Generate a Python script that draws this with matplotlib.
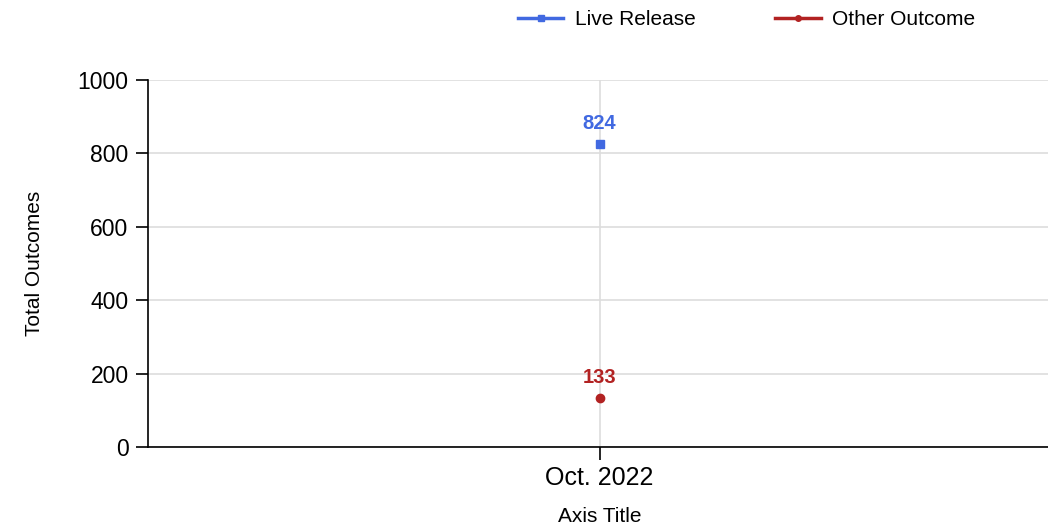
import matplotlib

matplotlib.use("Agg")
import matplotlib.pyplot as plt
from matplotlib.lines import Line2D

plt.rcParams["font.family"] = ["Liberation Sans", "DejaVu Sans"]

categories = ["Oct. 2022"]
live_release = [824]
other_outcome = [133]
series_names = ["Live Release", "Other Outcome"]
colors = ["#4169E1", "#B22222"]
yticks = [0, 200, 400, 600, 800, 1000]

fig = plt.figure(figsize=(10.48, 5.29), dpi=100, facecolor="white")
ax = fig.add_axes([0.1412, 0.155, 0.862, 0.694])

x = list(range(len(categories)))
ax.plot(x, live_release, marker="s", markersize=6, color=colors[0], linewidth=2, zorder=3)
ax.plot(x, other_outcome, marker="o", markersize=6, color=colors[1], linewidth=2, zorder=3)

for series, color in [(live_release, colors[0]), (other_outcome, colors[1])]:
    for xi, v in zip(x, series):
        ax.annotate(str(v), (xi, v), xytext=(0, 8), textcoords="offset points",
                    ha="center", va="bottom", color=color, fontsize=14.5, fontweight="bold")

ax.set_xlim(-0.5, 0.5)
ax.set_ylim(0, 1000)
ax.set_xticks(x)
ax.set_xticklabels(categories, fontsize=18)
ax.set_yticks(yticks)
ax.set_yticklabels([str(t) for t in yticks], fontsize=16.5)
ax.tick_params(axis="both", direction="out", length=9, width=1.2, color="black", pad=5)

ax.grid(True, color="#dddddd", linewidth=1.2)
ax.set_axisbelow(True)
for side in ["top", "right"]:
    ax.spines[side].set_visible(False)
for side in ["left", "bottom"]:
    ax.spines[side].set_color("black")
    ax.spines[side].set_linewidth(1.2)

ax.set_ylabel("Total Outcomes", fontsize=15, labelpad=24)
ax.set_xlabel("Axis Title", fontsize=15, labelpad=12)

handles = [
    Line2D([0], [0], color=colors[0], linewidth=2.5, marker="s", markersize=4),
    Line2D([0], [0], color=colors[1], linewidth=2.5, marker="o", markersize=4),
]
fig.legend(handles, series_names, loc="upper left", bbox_to_anchor=(0.476, 1.016),
           ncol=2, frameon=False, fontsize=15, handlelength=2.2, handletextpad=0.55,
           columnspacing=3.8)

fig.savefig("out.png", dpi=100, facecolor="white")
